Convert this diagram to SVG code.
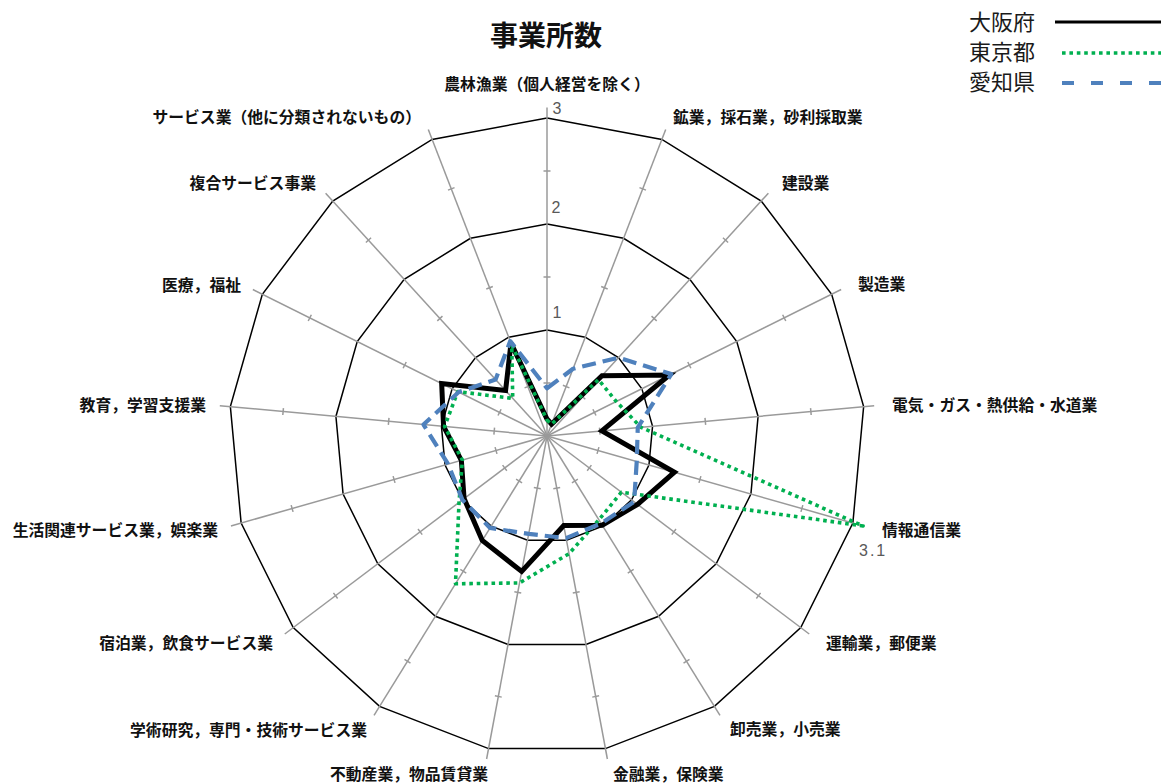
<svg xmlns="http://www.w3.org/2000/svg" xmlns:xlink="http://www.w3.org/1999/xlink" width="1161" height="783" viewBox="0 0 1161 783">
<style>
.lbl{font-family:"Noto Sans CJK JP","Noto Sans CJK SC",sans-serif;font-size:15.8px;font-weight:bold;fill:#111}
.num{font-family:"Liberation Sans","Noto Sans",sans-serif;font-size:16px;fill:#595959}
.leg{font-family:"Noto Sans CJK JP","Noto Sans CJK SC",sans-serif;font-size:22px;fill:#1a1a1a}
.ring{fill:none;stroke:#000;stroke-width:1.5}
.ax{stroke:#9a9a9a;stroke-width:1.5;fill:none}
.osaka{fill:none;stroke:#000;stroke-width:5;stroke-linejoin:miter;stroke-miterlimit:3}
.tokyo{fill:none;stroke:#00B050;stroke-width:3.6;stroke-dasharray:3.6 3.8;stroke-linejoin:round}
.aichi{fill:none;stroke:#4F81BD;stroke-width:4.2;stroke-dasharray:14 7;stroke-linejoin:round}
</style>
<defs>
<g id="axis">
<line class="ax" x1="547" y1="436" x2="547" y2="107.4"/>
<path class="ax" d="M543.5 383H550.5M543.5 277H550.5M543.5 171H550.5"/>
</g>
</defs>
<rect width="1161" height="783" fill="#fff"/>
<g id="title"><text x="546" y="46" text-anchor="middle" font-family="'Noto Sans CJK JP','Noto Sans CJK SC',sans-serif" font-size="28" font-weight="bold" fill="#111">事業所数</text></g>
<g id="legend">
<text class="leg" x="969" y="30">大阪府</text>
<text class="leg" x="969" y="60">東京都</text>
<text class="leg" x="969" y="90">愛知県</text>
<line x1="1055" y1="22" x2="1161" y2="22" stroke="#000" stroke-width="3.2"/>
<line x1="1062" y1="53" x2="1161" y2="53" stroke="#00B050" stroke-width="3.6" stroke-dasharray="3.6 3.8"/>
<line x1="1062" y1="83" x2="1161" y2="83" stroke="#4F81BD" stroke-width="4.2" stroke-dasharray="12 17"/>
</g>
<g id="grid">
<polygon class="ring" points="547,330 585.29,337.16 618.41,357.66 641.89,388.75 652.55,426.22 648.95,465.01 631.59,499.88 602.8,526.12 566.48,540.19 527.52,540.19 491.2,526.12 462.41,499.88 445.05,465.01 441.45,426.22 452.11,388.75 475.59,357.66 508.71,337.16"/>
<polygon class="ring" points="547,224 623.58,238.32 689.82,279.33 736.77,341.51 758.09,416.44 750.91,494.02 716.18,563.76 658.6,616.25 585.96,644.39 508.04,644.39 435.4,616.25 377.82,563.76 343.09,494.02 335.91,416.44 357.23,341.51 404.18,279.33 470.42,238.32"/>
<polygon class="ring" points="547,118 661.87,139.47 761.24,200.99 831.66,294.26 863.64,406.66 852.86,523.02 800.77,627.64 714.4,706.37 605.43,748.58 488.57,748.58 379.6,706.37 293.23,627.64 241.14,523.02 230.36,406.66 262.34,294.26 332.76,200.99 432.13,139.47"/>
</g>
<g id="axes">
<use xlink:href="#axis"/>
<use xlink:href="#axis" transform="rotate(21.1765 547 436)"/>
<use xlink:href="#axis" transform="rotate(42.3529 547 436)"/>
<use xlink:href="#axis" transform="rotate(63.5294 547 436)"/>
<use xlink:href="#axis" transform="rotate(84.7059 547 436)"/>
<use xlink:href="#axis" transform="rotate(105.8824 547 436)"/>
<use xlink:href="#axis" transform="rotate(127.0588 547 436)"/>
<use xlink:href="#axis" transform="rotate(148.2353 547 436)"/>
<use xlink:href="#axis" transform="rotate(169.4118 547 436)"/>
<use xlink:href="#axis" transform="rotate(190.5882 547 436)"/>
<use xlink:href="#axis" transform="rotate(211.7647 547 436)"/>
<use xlink:href="#axis" transform="rotate(232.9412 547 436)"/>
<use xlink:href="#axis" transform="rotate(254.1176 547 436)"/>
<use xlink:href="#axis" transform="rotate(275.2941 547 436)"/>
<use xlink:href="#axis" transform="rotate(296.4706 547 436)"/>
<use xlink:href="#axis" transform="rotate(317.6471 547 436)"/>
<use xlink:href="#axis" transform="rotate(338.8235 547 436)"/>
</g>
<g id="scale">
<text class="num" x="557" y="113.5" text-anchor="middle">3</text>
<text class="num" x="556" y="212.5" text-anchor="middle">2</text>
<text class="num" x="557" y="317.5" text-anchor="middle">1</text>
<text class="num" x="859" y="556" letter-spacing="2">3.1</text>
</g>
<g id="series">
<polygon id="s-osaka" class="osaka" points="547,419.04 551.59,424.14 601.99,375.68 669.4,375.05 601.88,430.91 674.44,472.26 637.51,504.35 602.24,525.22 563.75,525.61 521.68,571.45 482.27,540.54 464.1,498.6 461.36,460.37 443.56,426.42 441.68,383.56 505.58,390.57 511.01,343.09"/>
<polygon id="s-tokyo" class="tokyo" points="547,420.1 551.59,424.14 598.42,379.6 616.27,401.51 640.94,427.3 863.06,525.92 621.44,492.21 598.9,519.81 569.01,553.74 519.54,582.91 455.48,583.8 459.03,502.43 462.38,460.08 444.62,426.51 457.81,391.59 512.72,398.4 511.77,345.06"/>
<polygon id="s-aichi" class="aichi" points="547,388.3 573.04,368.79 618.41,357.66 671.3,374.11 637.77,427.59 636.72,461.53 634.13,501.8 601.13,523.42 566.09,538.11 528.69,533.94 490.08,527.93 462.41,499.88 448.1,464.14 423.51,424.56 458.76,392.06 495.58,379.6 510.24,341.11"/>
</g>
<g id="labels">
<text class="lbl" x="547" y="90" text-anchor="middle">農林漁業（個人経営を除く）</text>
<text class="lbl" x="673" y="123">鉱業，採石業，砂利採取業</text>
<text class="lbl" x="782" y="189">建設業</text>
<text class="lbl" x="858" y="290">製造業</text>
<text class="lbl" x="892" y="411">電気・ガス・熱供給・水道業</text>
<text class="lbl" x="882" y="536">情報通信業</text>
<text class="lbl" x="826" y="649">運輸業，郵便業</text>
<text class="lbl" x="730" y="735">卸売業，小売業</text>
<text class="lbl" x="613" y="780">金融業，保険業</text>
<text class="lbl" x="488" y="780" text-anchor="end">不動産業，物品賃貸業</text>
<text class="lbl" x="367" y="736" text-anchor="end">学術研究，専門・技術サービス業</text>
<text class="lbl" x="273" y="649" text-anchor="end">宿泊業，飲食サービス業</text>
<text class="lbl" x="218" y="536" text-anchor="end">生活関連サービス業，娯楽業</text>
<text class="lbl" x="206" y="411" text-anchor="end">教育，学習支援業</text>
<text class="lbl" x="241" y="291" text-anchor="end">医療，福祉</text>
<text class="lbl" x="316" y="189" text-anchor="end">複合サービス事業</text>
<text class="lbl" x="421" y="123" text-anchor="end">サービス業（他に分類されないもの）</text>
</g>
</svg>
